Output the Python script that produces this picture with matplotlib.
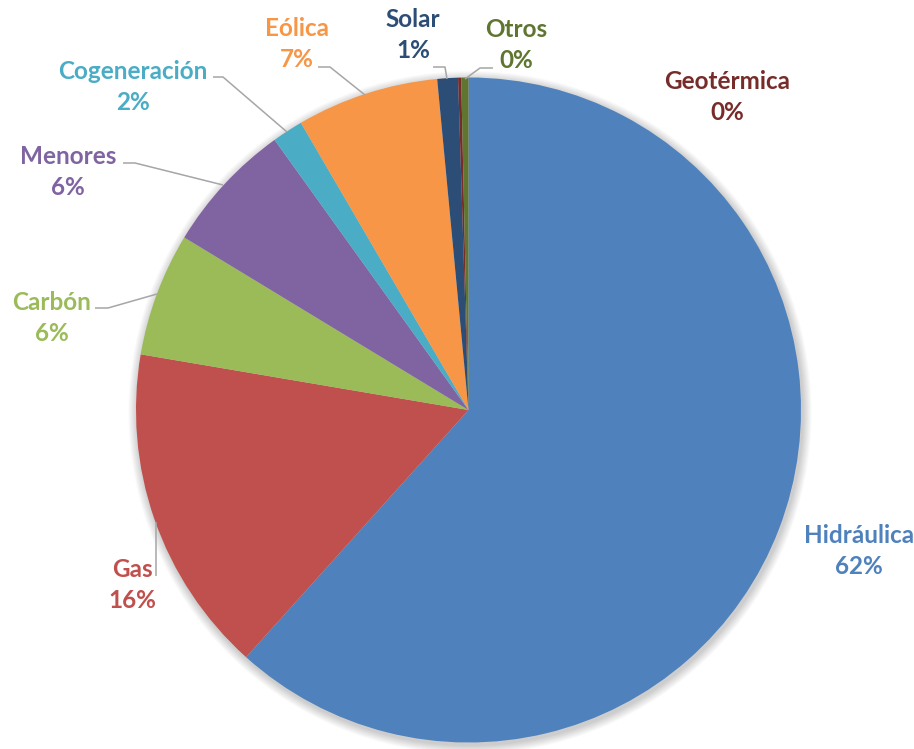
import matplotlib
matplotlib.use("Agg")
import matplotlib.pyplot as plt
from matplotlib.patches import Circle

# ---- data ----
categories = ["Hidráulica", "Gas", "Carbón", "Menores", "Cogeneración",
              "Eólica", "Solar", "Geotérmica", "Otros"]
values = [61.6, 16.0, 6.0, 6.4, 1.5, 6.9, 1.0, 0.15, 0.35]
slice_colors = ["#4F81BD", "#C0504D", "#9BBB59", "#8064A2", "#4BACC6",
                "#F79646", "#2C4D75", "#772C2A", "#5F7530"]

# ---- layout (pixel coordinates, y downward) ----
W, H = 914, 749
CX, CY, R = 468.5, 410, 332.5

label_pos = {
    "Hidráulica": (859, 551),
    "Gas": (132, 585),
    "Carbón": (52, 318),
    "Menores": (68, 172),
    "Cogeneración": (133, 87),
    "Eólica": (297, 44),
    "Solar": (413, 35),
    "Geotérmica": (727, 97),
    "Otros": (516, 45),
}
leaders = {
    "Gas": [(156, 576), (156, 522)],
    "Carbón": [(95, 308), (108, 308), (157, 294)],
    "Menores": [(123, 163), (135, 163), (223, 185)],
    "Cogeneración": [(213, 77), (223, 77), (287, 132)],
    "Eólica": [(318, 67), (330, 67), (365, 95)],
    "Solar": [(433, 67), (445, 67), (447, 79)],
    "Otros": [(493, 68), (480, 68), (465, 79)],
}

fig = plt.figure(figsize=(W / 100, H / 100), dpi=100)
ax = fig.add_axes([0, 0, 1, 1])

def fy(y):
    return H - y

# soft shadow
for i in range(10):
    ax.add_patch(Circle((CX + 1.5, fy(CY + 2.5)), R + 1 + i * 0.9,
                        facecolor="#000000", edgecolor="none",
                        alpha=0.018, zorder=0))

ax.pie(values, colors=slice_colors, startangle=90, counterclock=False,
       center=(CX, fy(CY)), radius=R,
       wedgeprops=dict(edgecolor="none", linewidth=0, zorder=2))

total = sum(values)
for cat, val, col in zip(categories, values, slice_colors):
    x, y = label_pos[cat]
    pct = val / total * 100
    ax.text(x, fy(y), f"{cat}\n{pct:.0f}%", ha="center", va="center",
            color=col, fontsize=17.5, fontweight="bold", family="Lato",
            linespacing=1.42, zorder=5)

for cat, pts in leaders.items():
    xs = [p[0] for p in pts]
    ys = [fy(p[1]) for p in pts]
    ax.plot(xs, ys, color="#A6A6A6", lw=1.1, zorder=4, solid_capstyle="butt")

ax.set_xlim(0, W)
ax.set_ylim(0, H)
ax.set_aspect("auto")
ax.axis("off")

fig.savefig("out.png", dpi=100, facecolor="white")
